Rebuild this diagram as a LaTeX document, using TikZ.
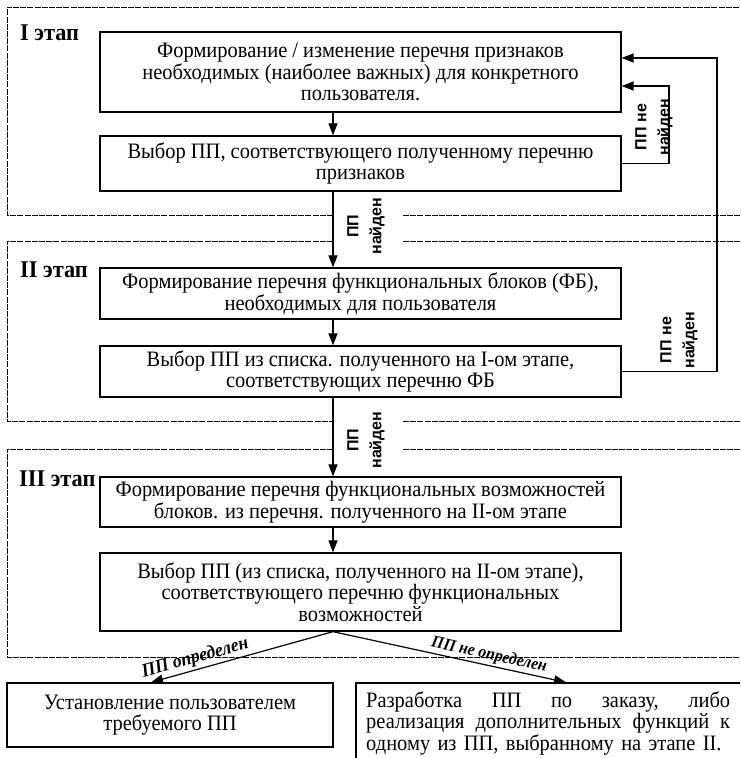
\documentclass[tikz,border=0pt]{standalone}
\usepackage{fontspec}
\setmainfont{Liberation Serif}[FakeStretch=0.93]
\newfontfamily\lblfont{Liberation Sans}
\usetikzlibrary{arrows.meta}
\begin{document}
\begin{tikzpicture}[x=1pt,y=-1pt,
  box/.style={draw, line width=1.3pt, inner sep=0pt, align=center,
    font=\fontsize{22}{21.5}\selectfont},
  arr/.style={line width=1.2pt, -{Triangle[length=12pt,width=9pt]}},
  frame/.style={line width=0.7pt, dash pattern=on 6pt off 1.2pt},
  stage/.style={font=\fontsize{24}{24}\selectfont\bfseries, anchor=west, inner sep=0pt},
  vlab/.style={font=\lblfont\bfseries\fontsize{16}{23}\selectfont, rotate=90,
    align=center, inner sep=0pt},
  blab/.style={font=\bfseries\itshape, sloped, above, inner sep=2pt}]
\clip (0,0) rectangle (740,758);
\fill[white] (0,0) rectangle (740,758);

% stage frames
\draw[frame] (333,215) -| (7,7) -- (745,7);
\draw[frame] (403,215) -- (745,215);
\draw[frame] (333,241) -| (7,421) -- (333,421);
\draw[frame] (403,241) -- (745,241);
\draw[frame] (403,421) -- (745,421);
\draw[frame] (333,449) -| (7,657) -- (745,657);
\draw[frame] (403,449) -- (745,449);

% stage titles
\node[stage] (s1) at (20,33) {I этап};
\node[stage] (s2) at (20,270) {II этап};
\node[stage] (s3) at (19,479) {III этап};

% boxes
\node[box, minimum width=521pt, minimum height=80pt] (b1) at (360.5,72)
  {Формирование / изменение перечня признаков\\необходимых (наиболее важных) для конкретного\\пользователя.};
\node[box, minimum width=521pt, minimum height=55pt] (b2) at (360.5,163.5)
  {Выбор ПП, соответствующего полученному перечню\\признаков};
\node[box, minimum width=521pt, minimum height=51pt] (b3) at (360.5,293.5)
  {Формирование перечня функциональных блоков (ФБ),\\необходимых для пользователя};
\node[box, minimum width=521pt, minimum height=51pt] (b4) at (360.5,371.5)
  {Выбор ПП из списка. полученного на I-ом этапе,\\соответствующих перечню ФБ};
\node[box, minimum width=521pt, minimum height=50pt] (b5) at (360.5,502)
  {Формирование перечня функциональных возможностей\\блоков. из перечня. полученного на II-ом этапе};
\node[box, minimum width=521pt, minimum height=78pt] (b6) at (360.5,592)
  {Выбор ПП (из списка, полученного на II-ом этапе),\\соответствующего перечню функциональных\\возможностей};
\node[box, minimum width=326pt, minimum height=64pt] (b7) at (170,715)
  {Установление пользователем\\требуемого ПП};
\node[draw, line width=1.3pt, inner sep=0pt, minimum width=404pt, minimum height=97pt] (b8) at (558,731.5) {};
\node[anchor=north west, inner sep=0pt, text width=364pt, align=left,
  font=\fontsize{22}{19}\selectfont] (t8) at (366,692)
  {\leavevmode\hbox to 364pt{Разработка\hfill ПП\hfill по\hfill заказу,\hfill либо}\\
   \leavevmode\hbox to 364pt{реализация\hfill дополнительных\hfill функций\hfill к}\\
   одному из ПП, выбранному на этапе II.};

% helper coordinates
\coordinate (ax) at (333,0);
\coordinate (lx) at (151,0);
\coordinate (rx) at (566,0);
\coordinate (i1) at (669,86);
\coordinate (o1) at (717,58);

% main flow
\draw[arr] (b1.south -| ax) -- (b2.north -| ax);
\draw[arr] (b2.south -| ax) -- (b3.north -| ax);
\draw[arr] (b3.south -| ax) -- (b4.north -| ax);
\draw[arr] (b4.south -| ax) -- (b5.north -| ax);
\draw[arr] (b5.south -| ax) -- (b6.north -| ax);

% feedback loops
\draw[arr] (b2.east) -| (i1) -- (b1.east |- i1);
\draw[arr] (b4.east) -| (o1) -- (b1.east |- o1);

% vertical labels
\node[vlab] (l1) at (654,127) {ПП не\\найден};
\node[vlab] (l2) at (679,340) {ПП не\\найден};
\node[vlab] (l3) at (366,226) {ПП\\найден};
\node[vlab] (l4) at (366,440) {ПП\\найден};

% final branches
\draw[arr] (b6.south -| ax) -- node[blab, pos=0.74, font=\fontsize{19}{20}\selectfont\bfseries\itshape] (lb1) {ПП определен} (b7.north -| lx);
\draw[arr] (b6.south -| ax) -- node[blab, pos=0.66, font=\fontsize{17}{20}\selectfont\bfseries\itshape] (lb2) {ПП не определен} (b8.north -| rx);
\end{tikzpicture}
\end{document}
